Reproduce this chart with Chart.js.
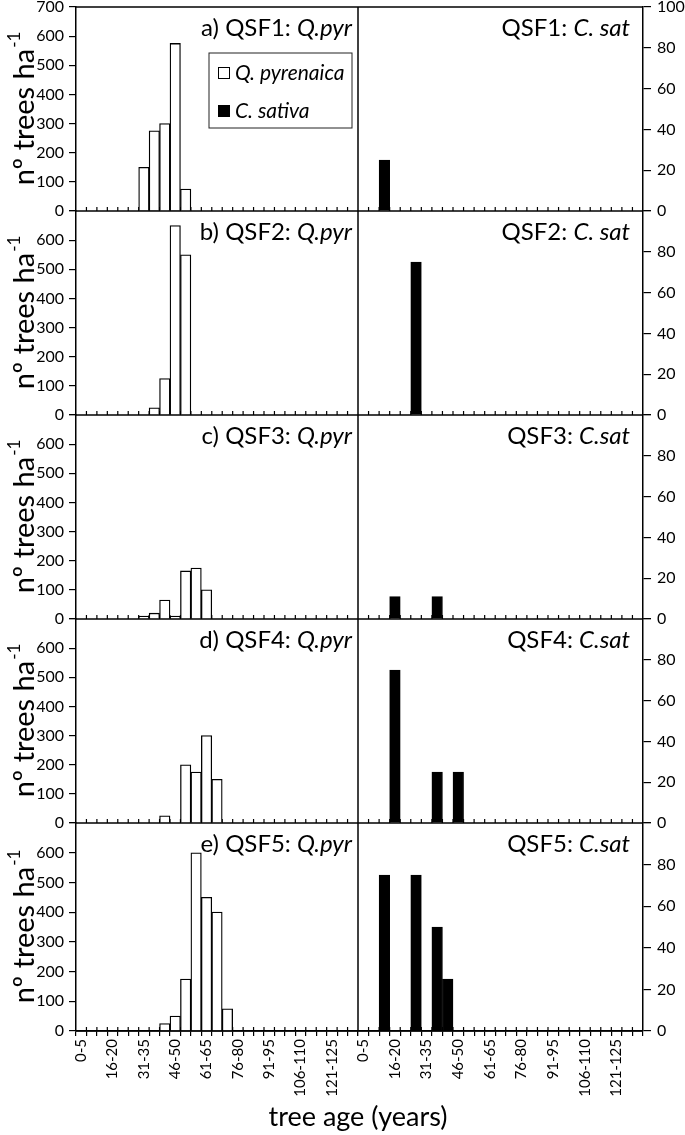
<!DOCTYPE html>
<html>
<head>
<meta charset="utf-8">
<script src="https://cdn.jsdelivr.net/npm/chart.js"></script>
<style>
  html, body { margin: 0; padding: 0; background: #fff; }
  #wrap { width: 685px; height: 1135px; }
</style>
</head>
<body>
<div id="wrap"><canvas id="chart" width="685" height="1135"></canvas></div>
<script>
// tree age classes (years)
const ageClasses = ["0-5", "6-10", "11-15", "16-20", "21-25", "26-30", "31-35", "36-40", "41-45",
  "46-50", "51-55", "56-60", "61-65", "66-70", "71-75", "76-80", "81-85", "86-90", "91-95",
  "96-100", "101-105", "106-110", "111-115", "116-120", "121-125", "126-130", "131-135"];

// Q. pyrenaica, nº trees ha-1 per stand (left axis)
const qpyrQSF1 = [0, 0, 0, 0, 0, 0, 150, 275, 300, 575, 75, 0, 0, 0, 0, 0, 0, 0, 0, 0, 0, 0, 0, 0, 0, 0, 0];
const qpyrQSF2 = [0, 0, 0, 0, 0, 0, 0, 25, 125, 650, 550, 0, 0, 0, 0, 0, 0, 0, 0, 0, 0, 0, 0, 0, 0, 0, 0];
const qpyrQSF3 = [0, 0, 0, 0, 0, 0, 10, 20, 65, 10, 165, 175, 100, 0, 0, 0, 0, 0, 0, 0, 0, 0, 0, 0, 0, 0, 0];
const qpyrQSF4 = [0, 0, 0, 0, 0, 0, 0, 0, 25, 0, 200, 175, 300, 150, 0, 0, 0, 0, 0, 0, 0, 0, 0, 0, 0, 0, 0];
const qpyrQSF5 = [0, 0, 0, 0, 0, 0, 0, 0, 25, 50, 175, 600, 450, 400, 75, 0, 0, 0, 0, 0, 0, 0, 0, 0, 0, 0, 0];

// C. sativa, nº trees ha-1 per stand (right axis)
const csatQSF1 = [0, 0, 25, 0, 0, 0, 0, 0, 0, 0, 0, 0, 0, 0, 0, 0, 0, 0, 0, 0, 0, 0, 0, 0, 0, 0, 0];
const csatQSF2 = [0, 0, 0, 0, 0, 75, 0, 0, 0, 0, 0, 0, 0, 0, 0, 0, 0, 0, 0, 0, 0, 0, 0, 0, 0, 0, 0];
const csatQSF3 = [0, 0, 0, 11, 0, 0, 0, 11, 0, 0, 0, 0, 0, 0, 0, 0, 0, 0, 0, 0, 0, 0, 0, 0, 0, 0, 0];
const csatQSF4 = [0, 0, 0, 75, 0, 0, 0, 25, 0, 25, 0, 0, 0, 0, 0, 0, 0, 0, 0, 0, 0, 0, 0, 0, 0, 0, 0];
const csatQSF5 = [0, 0, 75, 0, 0, 75, 0, 50, 25, 0, 0, 0, 0, 0, 0, 0, 0, 0, 0, 0, 0, 0, 0, 0, 0, 0, 0];

const stands = ["QSF1", "QSF2", "QSF3", "QSF4", "QSF5"];
const panelLetters = ["a)", "b)", "c)", "d)", "e)"];
const qpyrShort = ["Q.pyr", "Q.pyr", "Q.pyr", "Q.pyr", "Q.pyr"];
const csatShort = ["C. sat", "C. sat", "C.sat", "C.sat", "C.sat"];
const qpyrMax = 700, qpyrStep = 100;
const csatMax = 100, csatStep = 20;

const qpyrRows = [qpyrQSF1, qpyrQSF2, qpyrQSF3, qpyrQSF4, qpyrQSF5];
const csatRows = [csatQSF1, csatQSF2, csatQSF3, csatQSF4, csatQSF5];
const rowHeights = [204, 204, 204, 204, 208];

Chart.defaults.font.family = "Lato, 'DejaVu Sans', sans-serif";
Chart.defaults.color = "#000";

const blank = v => (v === 0 ? null : v);

const datasets = [];
qpyrRows.forEach((row, r) => {
  datasets.push({
    label: "Q. pyrenaica",
    data: row.map(blank),
    xAxisID: "xL", yAxisID: "yL" + r,
    backgroundColor: "#fff", borderColor: "#000", borderWidth: 1.3,
    barPercentage: 1, categoryPercentage: 1, grouped: false
  });
});
csatRows.forEach((row, r) => {
  datasets.push({
    label: "C. sativa",
    data: row.map(blank),
    xAxisID: "xR", yAxisID: "yR" + r,
    backgroundColor: "#000", borderColor: "#000", borderWidth: 1,
    barPercentage: 1, categoryPercentage: 1, grouped: false
  });
});

function xScale(weight, stackWeight) {
  return {
    type: "category", labels: ageClasses, position: "bottom",
    stack: "x", stackWeight: stackWeight, weight: weight, offset: true,
    grid: { offset: true, drawOnChartArea: false, drawTicks: true, tickLength: 5, color: "#000", lineWidth: 1.2 },
    border: { color: "#000", width: 1.5 },
    ticks: {
      autoSkip: false, maxRotation: 90, minRotation: 90, padding: 3,
      font: { size: 15 },
      callback: (v, i) => (i % 3 === 0 ? ageClasses[i] : "")
    },
    afterFit: s => { s.height = 104; s.paddingLeft = 0; s.paddingRight = 0; }
  };
}

const scales = { xL: xScale(1, 282), xR: xScale(2, 285) };
for (let r = 0; r < 5; r++) {
  scales["yL" + r] = {
    type: "linear", position: "left", stack: "yl", stackWeight: rowHeights[r], weight: 5 - r,
    min: 0, max: qpyrMax,
    grid: { drawOnChartArea: false, tickLength: 7, color: "#000", lineWidth: 1.2 },
    border: { color: "#000", width: 1.5 },
    ticks: {
      autoSkip: false, stepSize: qpyrStep, padding: 5, font: { size: 16 },
      callback: v => (v === qpyrMax && r > 0 ? "" : v)
    },
    afterFit: s => { s.width = 76; s.paddingTop = 0; s.paddingBottom = 0; }
  };
  scales["yR" + r] = {
    type: "linear", position: "right", stack: "yr", stackWeight: rowHeights[r], weight: r + 1,
    min: 0, max: csatMax,
    grid: { drawOnChartArea: false, tickLength: 8, color: "#000", lineWidth: 1.2 },
    border: { color: "#000", width: 1.5 },
    ticks: {
      autoSkip: false, stepSize: csatStep, padding: 6, font: { size: 16 },
      callback: v => (v === csatMax && r > 0 ? "" : v)
    },
    afterFit: s => { s.width = 42; s.paddingTop = 0; s.paddingBottom = 0; }
  };
}

function seg(ctx, x1, y1, x2, y2) {
  ctx.beginPath(); ctx.moveTo(x1, y1); ctx.lineTo(x2, y2); ctx.stroke();
}

// small inward ticks on every panel baseline, drawn under the bars
const innerTicks = {
  id: "innerTicks",
  beforeDatasetsDraw(chart) {
    const ctx = chart.ctx;
    ctx.save();
    ctx.strokeStyle = "#000"; ctx.lineWidth = 1.2;
    for (let r = 0; r < 5; r++) {
      const y0 = chart.scales["yL" + r].getPixelForValue(0);
      [chart.scales.xL, chart.scales.xR].forEach(sc => {
        for (let i = 1; i < ageClasses.length; i++) {
          const x = sc.getPixelForValue(i - 0.5);
          seg(ctx, x, y0, x, y0 - 4);
        }
      });
    }
    ctx.restore();
  }
};

function mixed(ctx, parts, xRight, y, size) {
  let total = 0;
  parts.forEach(p => {
    ctx.font = (p[1] ? "italic " : "") + size + "px Lato";
    total += ctx.measureText(p[0]).width;
  });
  let x = xRight - total;
  parts.forEach(p => {
    ctx.font = (p[1] ? "italic " : "") + size + "px Lato";
    ctx.fillText(p[0], x, y);
    x += ctx.measureText(p[0]).width;
  });
}

const decor = {
  id: "decor",
  afterDraw(chart) {
    const ctx = chart.ctx, ca = chart.chartArea;
    const xL = chart.scales.xL, xR = chart.scales.xR;
    ctx.save();
    ctx.strokeStyle = "#000"; ctx.lineWidth = 1.5;
    seg(ctx, ca.left, ca.top, ca.right, ca.top);
    seg(ctx, xL.right, ca.top, xL.right, ca.bottom);
    ctx.fillStyle = "#000";
    ctx.textBaseline = "alphabetic";
    ctx.textAlign = "left";
    for (let r = 0; r < 5; r++) {
      const ys = chart.scales["yL" + r];
      const y0 = ys.getPixelForValue(0);
      seg(ctx, ca.left, y0, ca.right, y0);
      // panel titles
      mixed(ctx, [[panelLetters[r] + " " + stands[r] + ": ", false], [qpyrShort[r], true]], xL.right - 6, ys.top + 29, 24);
      mixed(ctx, [[stands[r] + ": ", false], [csatShort[r], true]], xR.right - 13, ys.top + 29, 24);
      // y title with superscript
      const yc = (ys.top + ys.bottom) / 2;
      ctx.save();
      ctx.translate(22, yc);
      ctx.rotate(-Math.PI / 2);
      ctx.font = "29px Lato";
      const main = "nº trees ha";
      const w1 = ctx.measureText(main).width;
      ctx.font = "17px Lato";
      const w2 = ctx.measureText("-1").width;
      const x0 = -(w1 + w2) / 2;
      ctx.font = "29px Lato";
      ctx.fillText(main, x0, 12);
      ctx.font = "17px Lato";
      ctx.fillText("-1", x0 + w1 + 1, -2);
      ctx.restore();
    }
    // x title
    ctx.font = "27px Lato";
    ctx.textAlign = "center";
    ctx.fillText("tree age (years)", xL.right, 1126);
    // legend inside panel a
    const top0 = chart.scales.yL0.top;
    const bx = xL.right - 149, by = top0 + 46, bw = 143, bh = 75;
    ctx.lineWidth = 1;
    ctx.strokeStyle = "#222";
    ctx.strokeRect(bx, by, bw, bh);
    ctx.textAlign = "left";
    const items = [datasets[0], datasets[5]];
    items.forEach((d, k) => {
      const sy = by + 14 + k * 38;
      ctx.fillStyle = d.backgroundColor;
      ctx.fillRect(bx + 9, sy, 12, 12);
      ctx.strokeStyle = "#000";
      ctx.lineWidth = 1;
      ctx.strokeRect(bx + 9.5, sy + 0.5, 11, 11);
      ctx.fillStyle = "#000";
      ctx.font = "italic 21px Lato";
      ctx.fillText(d.label, bx + 26, sy + 13);
    });
    ctx.restore();
  }
};

new Chart(document.getElementById("chart"), {
  type: "bar",
  data: { labels: ageClasses, datasets: datasets },
  options: {
    responsive: false,
    animation: false,
    layout: { padding: { top: 7, left: 0, right: 0, bottom: 0 } },
    plugins: { legend: { display: false }, tooltip: { enabled: false } },
    scales: scales
  },
  plugins: [innerTicks, decor]
});
</script>
</body>
</html>
